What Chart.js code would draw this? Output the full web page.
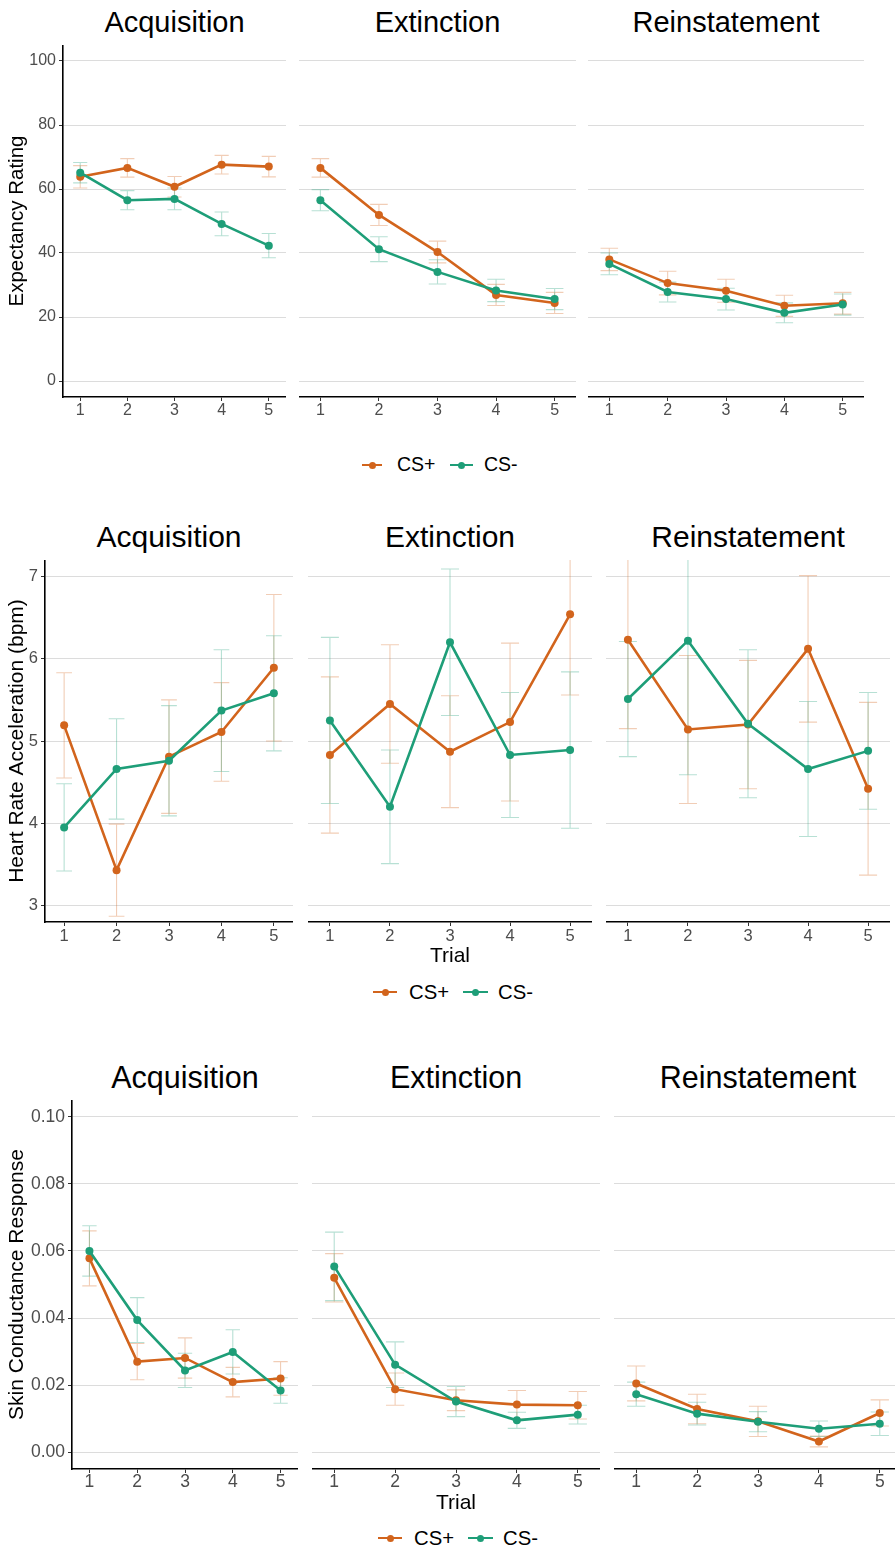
<!DOCTYPE html>
<html>
<head>
<meta charset="utf-8">
<title>Conditioning responses across phases</title>
<script src="https://cdn.jsdelivr.net/npm/chart.js@4.4.1/dist/chart.umd.min.js"></script>
<style>
  html, body { margin: 0; padding: 0; background: #fff; }
  body { position: relative; width: 895px; height: 1551px; overflow: hidden;
         font-family: 'Liberation Sans', Arial, Helvetica, sans-serif; }
  canvas { position: absolute; }
  .facet-title { position: absolute; color: #000; white-space: nowrap; text-align: center; }
  .key-line { position: absolute; height: 2.6px; }
  .key-dot { position: absolute; width: 7px; height: 7px; border-radius: 50%; }
  .key-text { position: absolute; color: #000; white-space: nowrap; }
</style>
</head>
<body>
<script>
// ---------- data ----------
const trials = [1, 2, 3, 4, 5];
const phaseNames = ['Acquisition', 'Extinction', 'Reinstatement'];
const seriesLabels = ['CS+', 'CS-'];

// Expectancy rating: one inner array per phase (Acquisition, Extinction, Reinstatement)
const expectancyPlus    = [[63.8, 66.6, 60.7, 67.6, 67.0], [66.6, 51.9, 40.3, 26.9, 24.4], [38.0, 30.6, 28.2, 23.5, 24.3]];
const expectancyPlusSE  = [[3.5, 2.9, 3.2, 2.9, 3.2],      [2.9, 3.3, 3.4, 3.3, 3.3],      [3.5, 3.7, 3.6, 3.3, 3.4]];
const expectancyMinus   = [[65.1, 56.5, 56.9, 49.1, 42.3], [56.5, 41.2, 34.1, 28.3, 25.6], [36.6, 27.8, 25.6, 21.3, 23.9]];
const expectancyMinusSE = [[3.2, 3.0, 3.4, 3.7, 3.8],      [3.3, 3.9, 3.8, 3.5, 3.3],      [3.4, 3.1, 3.4, 3.1, 3.3]];
const expectancyTicks   = [0, 20, 40, 60, 80, 100];

// Heart rate acceleration (bpm)
const heartRatePlus    = [[5.19, 3.43, 4.81, 5.11, 5.89], [4.83, 5.45, 4.87, 5.23, 6.54], [6.23, 5.14, 5.20, 6.12, 4.42]];
const heartRatePlusSE  = [[0.64, 0.56, 0.69, 0.60, 0.89], [0.95, 0.72, 0.68, 0.96, 0.98], [1.08, 0.90, 0.78, 0.89, 1.05]];
const heartRateMinus   = [[3.95, 4.66, 4.76, 5.37, 5.58], [5.25, 4.20, 6.20, 4.83, 4.89], [5.51, 6.22, 5.21, 4.66, 4.88]];
const heartRateMinusSE = [[0.53, 0.61, 0.67, 0.74, 0.70], [1.01, 0.69, 0.89, 0.76, 0.95], [0.70, 1.63, 0.90, 0.82, 0.71]];
const heartRateTicks   = [3, 4, 5, 6, 7];

// Skin conductance response
const scrPlus    = [[0.0578, 0.0270, 0.0281, 0.0209, 0.0220], [0.0520, 0.0188, 0.0155, 0.0142, 0.0140], [0.0205, 0.0129, 0.0092, 0.0032, 0.0117]];
const scrPlusSE  = [[0.0082, 0.0054, 0.0060, 0.0044, 0.0050], [0.0072, 0.0048, 0.0031, 0.0042, 0.0041], [0.0052, 0.0044, 0.0045, 0.0016, 0.0039]];
const scrMinus   = [[0.0600, 0.0394, 0.0244, 0.0299, 0.0184], [0.0554, 0.0261, 0.0151, 0.0095, 0.0112], [0.0173, 0.0115, 0.0091, 0.0070, 0.0085]];
const scrMinusSE = [[0.0075, 0.0067, 0.0051, 0.0066, 0.0038], [0.0102, 0.0068, 0.0045, 0.0024, 0.0028], [0.0036, 0.0034, 0.0030, 0.0023, 0.0035]];
const scrTicks   = [0.00, 0.02, 0.04, 0.06, 0.08, 0.10];

// ---------- appearance ----------
const colorPlus = '#D2641C';
const colorMinus = '#1E9E78';
const errAlpha = 0.32;
const capHalf = 0.15;           // half width of the error-bar caps, in trial units
const fontFamily = "'Liberation Sans', Arial, Helvetica, sans-serif";

Chart.defaults.font.family = fontFamily;

// each row of facets: measure, its arrays and where the panels sit on the page
const rows = [
  { measure: 'Expectancy Rating', plus: expectancyPlus, plusSE: expectancyPlusSE,
    minus: expectancyMinus, minusSE: expectancyMinusSE, ticks: expectancyTicks, decimals: 0,
    top: 45, bottom: 397, panels: [[63, 286], [299, 576], [588, 864]],
    titleY: 22, titleSize: 29, tickSize: 16, yTitleSize: 20.5, xTickPad: 2,
    xTitle: null, xAxisH: 30,
    legend: { y: 465, size: 19.5, plusLine: [362, 382], plusText: 397, minusLine: [450, 473], minusText: 484 } },
  { measure: 'Heart Rate Acceleration (bpm)', plus: heartRatePlus, plusSE: heartRatePlusSE,
    minus: heartRateMinus, minusSE: heartRateMinusSE, ticks: heartRateTicks, decimals: 0,
    top: 560, bottom: 922, panels: [[45, 293], [308, 592], [606, 890]],
    titleY: 537, titleSize: 30, tickSize: 16.5, yTitleSize: 21, xTickPad: 2,
    xTitle: 'Trial', xTitleY: 956.5, xAxisH: 30,
    legend: { y: 992, size: 20.3, plusLine: [373, 397], plusText: 409, minusLine: [463, 488], minusText: 498 } },
  { measure: 'Skin Conductance Response', plus: scrPlus, plusSE: scrPlusSE,
    minus: scrMinus, minusSE: scrMinusSE, ticks: scrTicks, decimals: 2,
    top: 1100, bottom: 1469, panels: [[72, 298], [312, 600], [614, 902]],
    titleY: 1077, titleSize: 30.5, tickSize: 17.5, yTitleSize: 21, xTickPad: 0,
    xTitle: 'Trial', xTitleY: 1503, xAxisH: 30,
    legend: { y: 1538, size: 20.3, plusLine: [378, 402], plusText: 414, minusLine: [468, 493], minusText: 503 } }
];

function withAlpha(hex, a) {
  const n = parseInt(hex.slice(1), 16);
  return `rgba(${(n >> 16) & 255},${(n >> 8) & 255},${n & 255},${a})`;
}

// error bars drawn beneath the lines, from each point's se, through the chart's scales
const errorBarPlugin = {
  id: 'errorBars',
  beforeDatasetsDraw(chart) {
    const { ctx, chartArea, scales: { x, y } } = chart;
    ctx.save();
    ctx.beginPath();
    ctx.rect(chartArea.left, chartArea.top, chartArea.right - chartArea.left, chartArea.bottom - chartArea.top);
    ctx.clip();
    ctx.lineWidth = 1.1;
    chart.data.datasets.forEach(ds => {
      ctx.strokeStyle = ds.errorColor;
      ds.data.forEach(pt => {
        const cx = x.getPixelForValue(pt.x);
        const xl = x.getPixelForValue(pt.x - capHalf);
        const xr = x.getPixelForValue(pt.x + capHalf);
        const yLo = y.getPixelForValue(pt.y - pt.se);
        const yHi = y.getPixelForValue(pt.y + pt.se);
        ctx.beginPath();
        ctx.moveTo(cx, yLo); ctx.lineTo(cx, yHi);
        ctx.moveTo(xl, yLo); ctx.lineTo(xr, yLo);
        ctx.moveTo(xl, yHi); ctx.lineTo(xr, yHi);
        ctx.stroke();
      });
    });
    ctx.restore();
  }
};

function points(means, ses) {
  return trials.map((t, i) => ({ x: t, y: means[i], se: ses[i] }));
}

function addText(cls, text, css) {
  const d = document.createElement('div');
  d.className = cls;
  d.textContent = text;
  Object.assign(d.style, css);
  document.body.appendChild(d);
  return d;
}

// scales keep the plot rectangle fixed: no label-driven padding
function noPadding(s) {
  s.paddingTop = 0; s.paddingBottom = 0; s.paddingLeft = 0; s.paddingRight = 0;
}

function drawPanel(row, p) {
  const [pl, pr] = row.panels[p];
  const first = p === 0;
  const withXTitle = p === 1 && row.xTitle;
  const left = first ? 0 : pl;
  const yAxisW = first ? pl : 0;
  const xAxisH = withXTitle ? Math.round(row.xTitleY + 10.5 - row.bottom) : row.xAxisH;
  const w = pr - left;
  const h = row.bottom - row.top + xAxisH;

  // axis limits follow the usual 5% expansion around ticks and caps
  const t0 = row.ticks[0], t1 = row.ticks[row.ticks.length - 1];
  const yPad = 0.05 * (t1 - t0);
  const xLo = trials[0] - capHalf, xHi = trials[trials.length - 1] + capHalf;
  const xPad = 0.05 * (xHi - xLo);

  const cv = document.createElement('canvas');
  cv.width = w; cv.height = h;
  cv.style.width = w + 'px'; cv.style.height = h + 'px';
  cv.style.left = left + 'px'; cv.style.top = row.top + 'px';
  document.body.appendChild(cv);

  new Chart(cv, {
    type: 'line',
    data: {
      datasets: [
        { label: seriesLabels[0], data: points(row.plus[p], row.plusSE[p]), order: 2,
          borderColor: colorPlus, backgroundColor: colorPlus, errorColor: withAlpha(colorPlus, errAlpha),
          borderWidth: 2.6, pointRadius: 4, pointBorderWidth: 0, pointHoverRadius: 4, pointBackgroundColor: colorPlus,
          tension: 0, fill: false },
        { label: seriesLabels[1], data: points(row.minus[p], row.minusSE[p]), order: 1,
          borderColor: colorMinus, backgroundColor: colorMinus, errorColor: withAlpha(colorMinus, errAlpha),
          borderWidth: 2.6, pointRadius: 4, pointBorderWidth: 0, pointHoverRadius: 4, pointBackgroundColor: colorMinus,
          tension: 0, fill: false }
      ]
    },
    options: {
      responsive: false,
      animation: false,
      devicePixelRatio: 1,
      events: [],
      layout: { padding: 0, autoPadding: false },
      plugins: { legend: { display: false }, tooltip: { enabled: false }, title: { display: false } },
      scales: {
        x: {
          type: 'linear',
          min: xLo - xPad, max: xHi + xPad,
          afterBuildTicks: s => { s.ticks = trials.map(v => ({ value: v })); },
          afterFit: s => { s.height = xAxisH; noPadding(s); },
          grid: { display: true, drawOnChartArea: false, drawTicks: true, tickLength: 4, tickColor: '#333333', tickWidth: 1 },
          border: { display: true, color: '#000000', width: 1.6 },
          ticks: { color: '#4d4d4d', font: { size: row.tickSize, lineHeight: 1 }, padding: row.xTickPad,
                   maxRotation: 0, autoSkip: false, callback: v => String(v) },
          title: withXTitle
            ? { display: true, text: row.xTitle, color: '#000', font: { size: 21, lineHeight: 1 }, padding: { top: 0, bottom: 0 } }
            : { display: false }
        },
        y: {
          type: 'linear',
          min: t0 - yPad, max: t1 + yPad,
          afterBuildTicks: s => { s.ticks = row.ticks.map(v => ({ value: v })); },
          afterFit: s => { s.width = yAxisW; noPadding(s); },
          grid: { color: '#dcdcdc', lineWidth: 1, drawTicks: first, tickLength: 4, tickColor: '#333333' },
          border: { display: first, color: '#000000', width: 1.6 },
          ticks: { display: first, color: '#4d4d4d', font: { size: row.tickSize, lineHeight: 1 }, padding: 3,
                   autoSkip: false, callback: v => Number(v).toFixed(row.decimals) },
          title: first
            ? { display: true, text: row.measure, color: '#000', font: { size: row.yTitleSize, lineHeight: 1 },
                padding: { top: 17 - row.yTitleSize / 2, bottom: 0 } }
            : { display: false }
        }
      }
    },
    plugins: [errorBarPlugin]
  });

  // facet strip title, centred over the panel
  addText('facet-title', phaseNames[p], {
    fontSize: row.titleSize + 'px', lineHeight: row.titleSize + 'px',
    top: (row.titleY - 0.49 * row.titleSize) + 'px', left: pl + 'px', width: (pr - pl) + 'px'
  });
}

function drawLegend(row) {
  const L = row.legend;
  [[L.plusLine, L.plusText, colorPlus, seriesLabels[0]], [L.minusLine, L.minusText, colorMinus, seriesLabels[1]]]
    .forEach(([line, tx, color, label]) => {
      const ln = document.createElement('div');
      ln.className = 'key-line';
      Object.assign(ln.style, { left: line[0] + 'px', width: (line[1] - line[0]) + 'px', top: (L.y - 1.3) + 'px', background: color });
      document.body.appendChild(ln);
      const dot = document.createElement('div');
      dot.className = 'key-dot';
      Object.assign(dot.style, { left: ((line[0] + line[1]) / 2 - 3.5) + 'px', top: (L.y - 3.5) + 'px', background: color });
      document.body.appendChild(dot);
      addText('key-text', label, { fontSize: L.size + 'px', lineHeight: L.size + 'px', left: tx + 'px', top: (L.y - 0.49 * L.size) + 'px' });
    });
}

rows.forEach(row => {
  phaseNames.forEach((_, p) => drawPanel(row, p));
  drawLegend(row);
});
</script>
</body>
</html>
